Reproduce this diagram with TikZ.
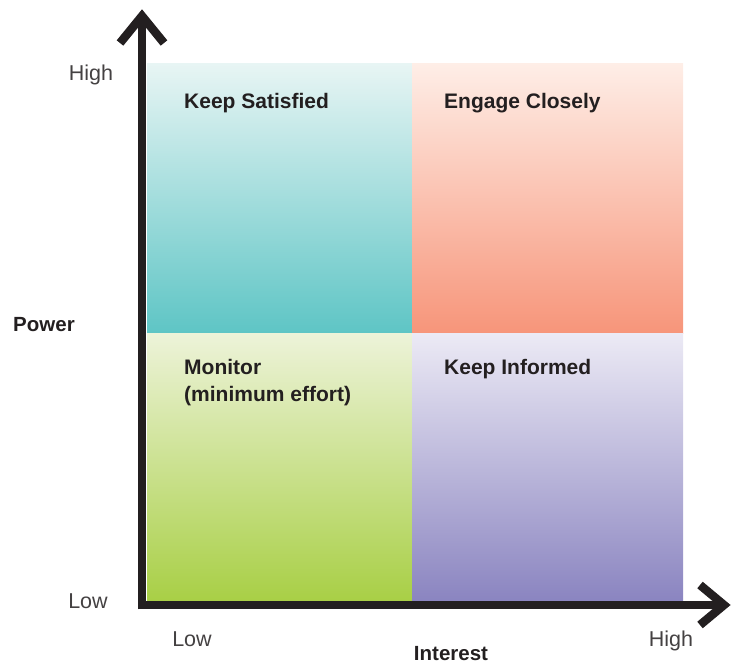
\documentclass[tikz,border=0pt]{standalone}
\usepackage{fontspec}
\setmainfont{Liberation Sans}
\definecolor{axis}{HTML}{231F20}
\definecolor{tealT}{HTML}{E8F5F4}
\definecolor{tealB}{HTML}{5EC5C5}
\definecolor{salT}{HTML}{FEEEE7}
\definecolor{salB}{HTML}{F7957A}
\definecolor{grnT}{HTML}{EDF3D9}
\definecolor{grnB}{HTML}{A8CF45}
\definecolor{purT}{HTML}{ECEAF5}
\definecolor{purB}{HTML}{8A84C0}
\tikzset{
  quadlabel/.style={anchor=base west, inner sep=0pt, font=\fontsize{21}{27}\selectfont\bfseries, text=axis},
  axlabel/.style={anchor=base, inner sep=0pt, font=\fontsize{21.5}{26}\selectfont, text=axis!85},
  axtitle/.style={anchor=base, inner sep=0pt, font=\fontsize{20.5}{26}\selectfont\bfseries, text=axis},
  axisline/.style={draw=axis, line width=8.5pt},
  chevron/.style={draw=axis, line width=8.5pt, line join=miter, miter limit=10}
}
\begin{document}
\begin{tikzpicture}[x=1pt,y=-1pt]
\useasboundingbox (0,0) rectangle (732,664);
% quadrants
\shade[top color=tealT, bottom color=tealB] (147,63) rectangle (412,333);
\shade[top color=salT, bottom color=salB] (412,63) rectangle (683,333);
\shade[top color=grnT, bottom color=grnB] (147,333) rectangle (412,602);
\shade[top color=purT, bottom color=purB] (412,333) rectangle (683,602);
% axes
\coordinate (origin) at (142,605);
\coordinate (ytip) at (142,16);
\coordinate (xtip) at (724,605);
\coordinate (yl) at (120,43);
\coordinate (yr) at (164,43);
\coordinate (xu) at (700,585);
\coordinate (xd) at (700,625);
\draw[axisline] (142,609.25) -- (ytip);
\draw[axisline] (origin) -- (xtip);
\draw[chevron] (yl) -- (ytip) -- (yr);
\draw[chevron] (xu) -- (xtip) -- (xd);
% quadrant labels
\node[quadlabel] (ks) at (184,108) {Keep Satisfied};
\node[quadlabel] (ec) at (444,108) {Engage Closely};
\node[quadlabel] (mo) at (184,374) {Monitor};
\node[quadlabel] (mo2) at (184,401) {(minimum effort)};
\node[quadlabel] (ki) at (444,374) {Keep Informed};
% axis labels
\node[axlabel] (yhigh) at (91,80) {High};
\node[axlabel] (ylow) at (88,608) {Low};
\node[axtitle] (power) at (44,331) {Power};
\node[axlabel] (xlow) at (192,646) {Low};
\node[axlabel] (xhigh) at (671,646) {High};
\node[axtitle] (interest) at (451,660) {Interest};
\end{tikzpicture}
\end{document}
